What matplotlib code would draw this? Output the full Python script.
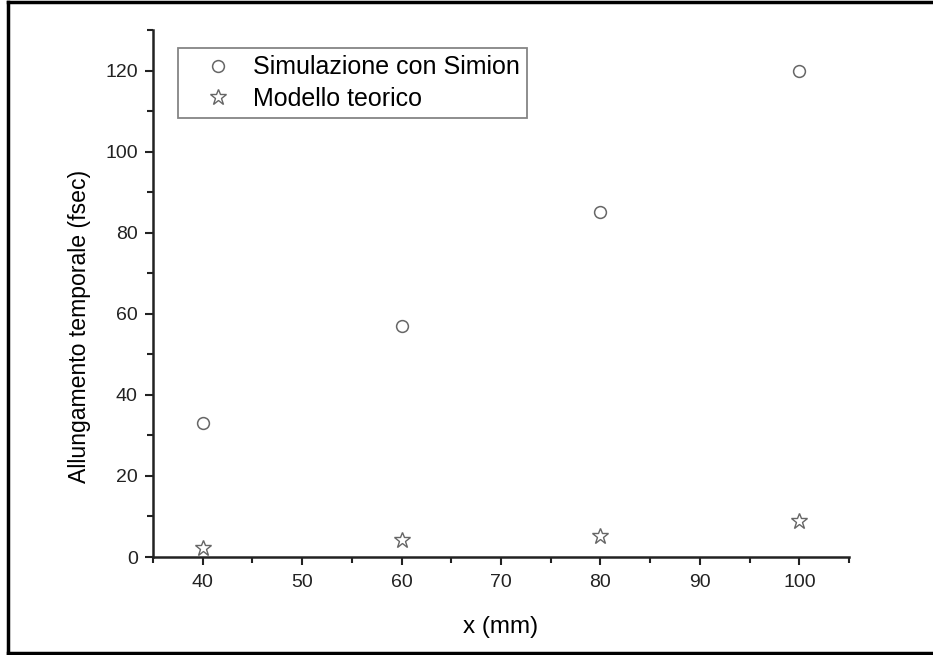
import matplotlib
matplotlib.use("Agg")
import matplotlib.pyplot as plt
from matplotlib.lines import Line2D
from matplotlib.ticker import MultipleLocator

plt.rcParams["font.family"] = ["Liberation Sans", "DejaVu Sans"]

# Data
x_mm = [40, 60, 80, 100]
simion = [33, 57, 85, 120]
teorico = [2.2, 4.2, 5.2, 8.9]

fig = plt.figure(figsize=(9.33, 6.55), dpi=100)
ax = fig.add_axes([0.164, 0.1496, 0.746, 0.8046])

ax.plot(x_mm, simion, linestyle="none", marker="o", markersize=8.5,
        markerfacecolor="none", markeredgecolor="#666666", markeredgewidth=1.1,
        label="Simulazione con Simion")
ax.plot(x_mm, teorico, linestyle="none", marker="*", markersize=12,
        markerfacecolor="none", markeredgecolor="#666666", markeredgewidth=1.0,
        label="Modello teorico")

ax.set_xlim(35, 105)
ax.set_ylim(0, 130)
ax.xaxis.set_major_locator(MultipleLocator(10))
ax.xaxis.set_minor_locator(MultipleLocator(5))
ax.yaxis.set_major_locator(MultipleLocator(20))
ax.yaxis.set_minor_locator(MultipleLocator(10))

for side in ("top", "right"):
    ax.spines[side].set_visible(False)
for side in ("left", "bottom"):
    ax.spines[side].set_linewidth(1.8)
    ax.spines[side].set_color("#222222")

ax.tick_params(which="major", direction="out", length=6, width=1.5,
               labelsize=14, colors="#222222")
ax.tick_params(axis="x", which="major", pad=6)
ax.tick_params(axis="y", which="major", pad=5)
ax.tick_params(which="minor", direction="out", length=4, width=1.5,
               colors="#222222")

ax.set_xlabel("x (mm)", fontsize=17.5, labelpad=18)
ax.set_ylabel("Allungamento temporale (fsec)", fontsize=16.6)
ax.yaxis.set_label_coords(-0.089, 0.438)

leg = ax.legend(loc="upper left", bbox_to_anchor=(0.036, 0.966),
                fontsize=18, frameon=True, fancybox=False,
                borderpad=0.3, handletextpad=0.1, labelspacing=0.3,
                handlelength=2.6, borderaxespad=0)
leg.get_frame().set_edgecolor("#666666")
leg.get_frame().set_linewidth(1.3)

# outer frame of the figure
kw = dict(color="black", linewidth=2.5, transform=fig.transFigure)
fig.add_artist(Line2D([0.0086, 1.0], [0.997, 0.997], **kw))
fig.add_artist(Line2D([0.0086, 0.0086], [0.003, 0.997], **kw))
fig.add_artist(Line2D([0.0086, 1.0], [0.003, 0.003], **kw))

fig.savefig("out.png", dpi=100)
